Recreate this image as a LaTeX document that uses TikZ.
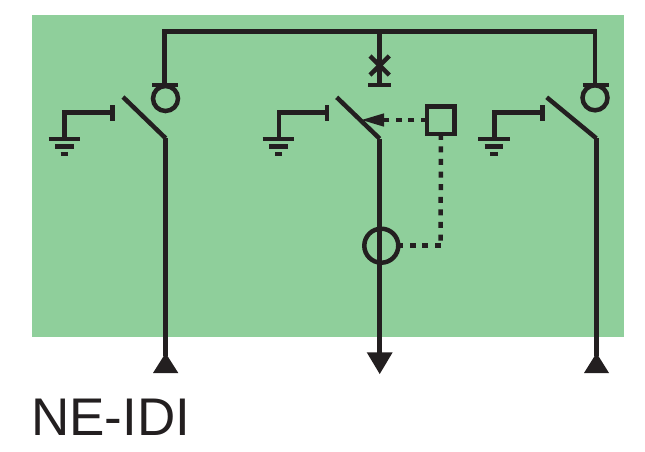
\documentclass[tikz,border=0pt]{standalone}
\usepackage{fontspec}
\setmainfont{Liberation Sans}
\definecolor{panel}{HTML}{8FCF9B}
\definecolor{ink}{HTML}{231F20}
\tikzset{
  x=1pt,y=-1pt,
  wire/.style={draw=ink,line width=4.5pt,line join=miter},
  blade/.style={draw=ink,line width=4.5pt},
  ctrl/.style={draw=ink,line width=4.5pt,dash pattern=on 6pt off 6.6pt},
  ring/.style={circle,draw=ink,line width=4.5pt,inner sep=0pt,outer sep=0pt,fill=none},
  relay/.style={rectangle,draw=ink,line width=4.5pt,inner sep=0pt,outer sep=0pt,minimum size=27.5pt,fill=none},
  tip/.style={fill=ink,draw=none},
  lamp/.style={ring,minimum size=25pt},
  sensor/.style={ring,minimum size=34pt},
}
\begin{document}
\begin{tikzpicture}
\useasboundingbox (0,0) rectangle (645,451);
\fill[panel] (32,15) rectangle (624,337);

% bus and feeders
\coordinate (busL) at (164.5,31.5);
\coordinate (busM) at (379.7,31.5);
\coordinate (busR) at (595,31.5);
\coordinate (capL) at (164.5,85);
\coordinate (capM) at (379.7,85);
\coordinate (capR) at (595,85);
\draw[wire] (capL) -- (busL) -- (busR) -- (capR);
\draw[wire] (busM) -- (capM);
\draw[wire] (152,85) -- (178,85);
\draw[wire] (368.3,85) -- (391,85);
\draw[wire] (582.7,85) -- (609,85);
\node[lamp] (lampL) at (165.5,98.5) {};
\node[lamp] (lampR) at (595,97.8) {};
\draw[blade] (370,56) -- (389.3,75);
\draw[blade] (389.3,56) -- (370,75);

% left switch
\coordinate (pivL) at (165.7,138.3);
\coordinate (bladeL) at (123,97);
\coordinate (footL) at (165.7,356);
\draw[blade] (bladeL) -- (pivL);
\draw[wire] (pivL) -- (footL);
\fill[tip] (165.6,353) -- (178.3,373) -- (153,373) -- cycle;
\draw[wire] (112.7,105) -- (112.7,120.7);
\coordinate (gndL) at (64.5,139);
\draw[wire] (112.7,112.5) -- (64.5,112.5) -- (gndL);
\draw[wire] (48.5,139) -- (80,139);
\draw[wire] (55,146.7) -- (74,146.7);
\draw[wire] (60.5,154) -- (68,154);

% middle switch
\coordinate (pivM) at (379.7,138.7);
\coordinate (bladeM) at (336.7,97.3);
\coordinate (footM) at (379.7,354);
\draw[blade] (bladeM) -- (pivM);
\draw[wire] (pivM) -- (footM);
\fill[tip] (366.7,352.3) -- (392.7,352.3) -- (379.7,374) -- cycle;
\draw[wire] (327,105) -- (327,120.7);
\coordinate (gndM) at (279,139);
\draw[wire] (327,112.3) -- (279,112.3) -- (gndM);
\draw[wire] (262.7,139) -- (294,139);
\draw[wire] (269,146.7) -- (288,146.7);
\draw[wire] (275,154) -- (282,154);

% control
\node[relay] (relay) at (440.8,120) {};
\node[sensor] (sensor) at (381.3,245.7) {};
\fill[tip] (361.7,120) -- (384,113.3) -- (384,126.7) -- cycle;
\draw[ctrl] (relay.west) -- (384,120);
\coordinate (corner) at (440.7,245.7);
\draw[ctrl] (relay.south) -- (corner);
\draw[ctrl] (corner) -- (sensor.east);

% right switch
\coordinate (pivR) at (596.3,138.3);
\coordinate (bladeR) at (546.7,97.3);
\coordinate (footR) at (596.3,356);
\draw[blade] (bladeR) -- (pivR);
\draw[wire] (pivR) -- (footR);
\fill[tip] (596.5,353) -- (609,373) -- (584,373) -- cycle;
\draw[wire] (542.3,105) -- (542.3,120.7);
\coordinate (gndR) at (494.3,139);
\draw[wire] (542.3,112.3) -- (494.3,112.3) -- (gndR);
\draw[wire] (478,139) -- (509.7,139);
\draw[wire] (484.7,146.7) -- (503.3,146.7);
\draw[wire] (490,154) -- (497.7,154);

\node[anchor=base west,inner sep=0pt,text=ink,font=\fontsize{53}{60}\selectfont] (title) at (31,435.7) {NE-IDI};
\end{tikzpicture}
\end{document}
